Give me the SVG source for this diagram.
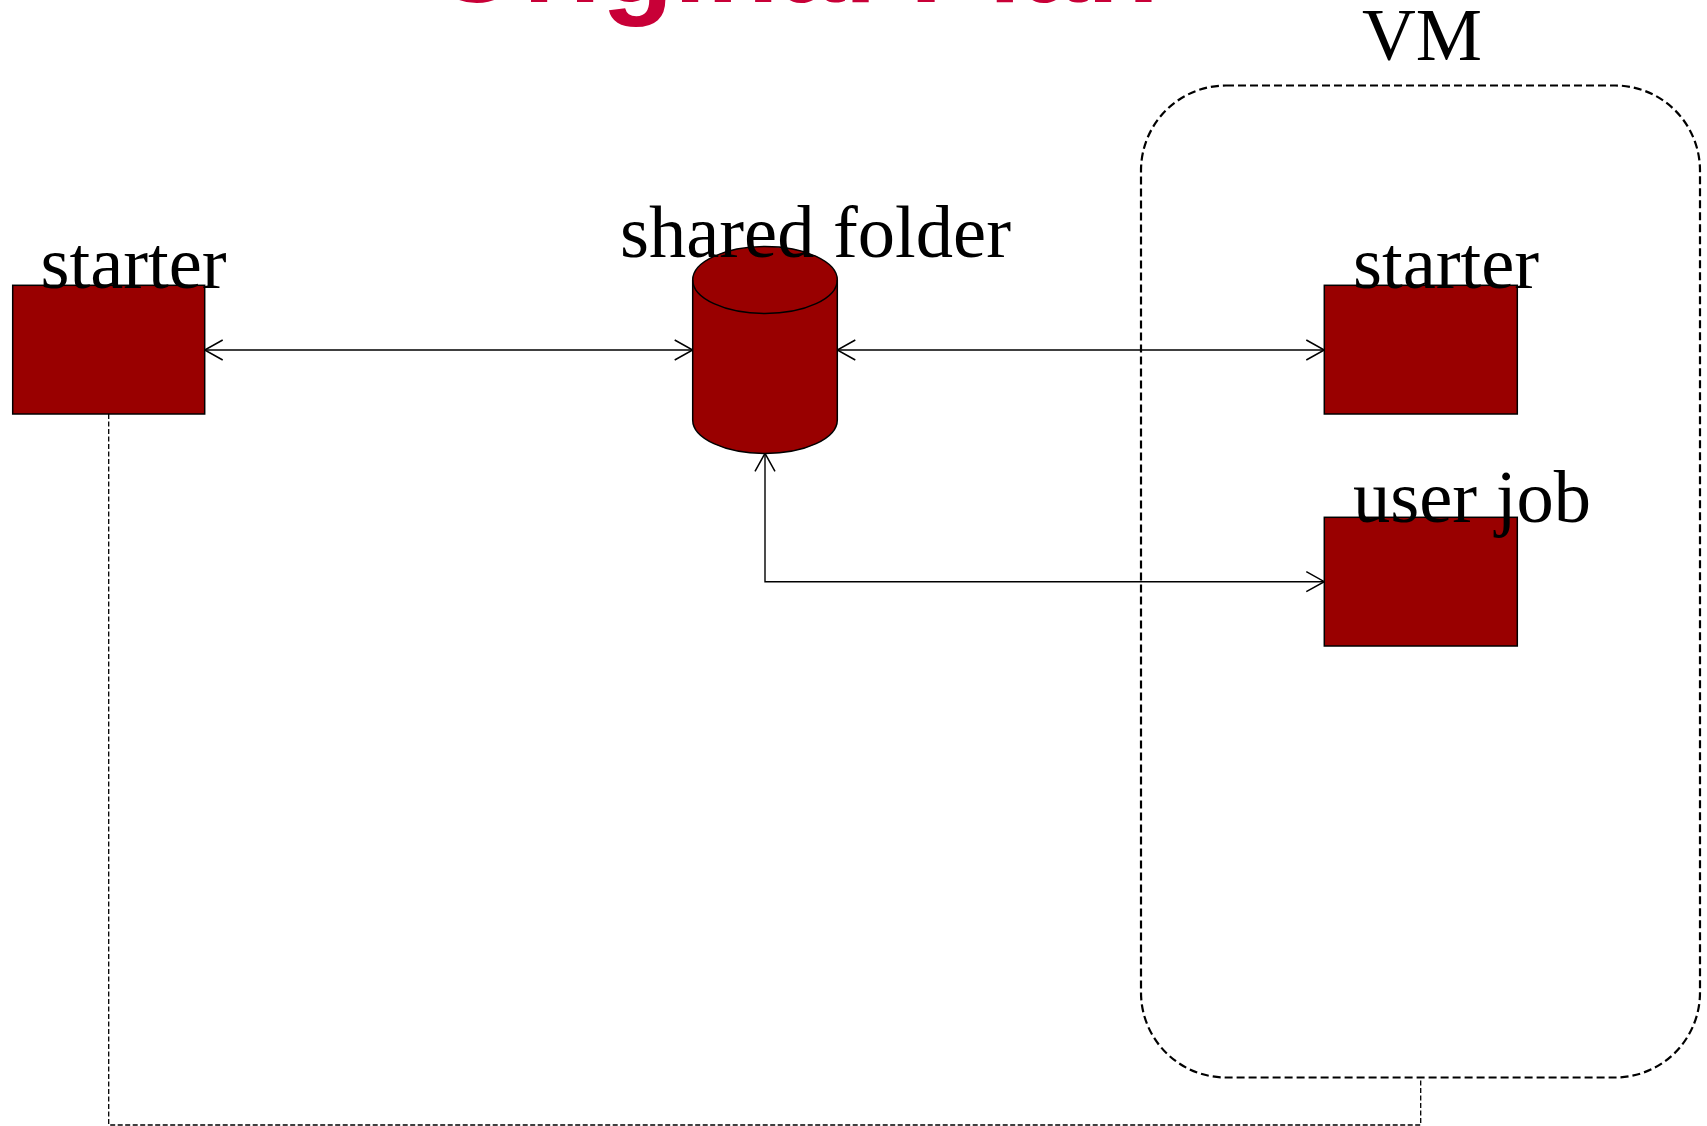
<svg xmlns="http://www.w3.org/2000/svg" width="1707" height="1126" viewBox="0 0 1707 1126">
<style>
.lbl{font-family:"Liberation Serif","Times New Roman",serif;font-size:74.5px;fill:#000}
.box{fill:#990000;stroke:#000;stroke-width:1.5}
.conn{fill:none;stroke:#000;stroke-width:1.4}
.dash{fill:none;stroke:#000;stroke-width:1.3;stroke-dasharray:5 2.5}
.title{font-family:"Liberation Sans",Arial,sans-serif;font-weight:bold;font-size:118px;fill:#C80037}
</style>
<defs>
<marker id="arr" markerUnits="userSpaceOnUse" markerWidth="22" markerHeight="24" refX="19" refY="11" orient="auto-start-reverse">
<path d="M1,1 L19,11 L1,21" fill="none" stroke="#000" stroke-width="1.5"/>
</marker>
</defs>
<rect width="1707" height="1126" fill="#fff"/>
<text class="title" x="795" y="2" text-anchor="middle">Original Plan</text>
<g id="vm">
<rect x="1141" y="85.5" width="559" height="992" rx="85" ry="85" fill="none" stroke="#000" stroke-width="2.2" stroke-dasharray="8 4"/>
<text class="lbl" x="1362" y="60">VM</text>
</g>
<g id="connectors">
<path class="conn" d="M204.7,350 H692.7" marker-start="url(#arr)" marker-end="url(#arr)"/>
<path class="conn" d="M837.3,350 H1324.3" marker-start="url(#arr)" marker-end="url(#arr)"/>
<path class="conn" d="M765,453.3 V581.7 H1324.3" marker-start="url(#arr)" marker-end="url(#arr)"/>
<path class="dash" d="M108.7,414 V1125 H1420.7 V1077.7"/>
</g>
<g id="starter-host">
<rect class="box" x="12.7" y="285.3" width="192" height="128.7"/>
<text class="lbl" x="40.5" y="288.3">starter</text>
</g>
<g id="shared-folder">
<path class="box" d="M692.7,280 V420 A72.3,33.5 0 0 0 837.3,420 V280 A72.3,33.5 0 0 0 692.7,280 Z"/>
<path d="M692.7,280 A72.3,33.5 0 0 0 837.3,280" fill="none" stroke="#000" stroke-width="1.5"/>
<text class="lbl" x="620" y="256.7">shared folder</text>
</g>
<g id="starter-vm">
<rect class="box" x="1324.3" y="285.3" width="193" height="128.7"/>
<text class="lbl" x="1353" y="288.3">starter</text>
</g>
<g id="user-job">
<rect class="box" x="1324.3" y="517.3" width="193" height="128.7"/>
<text class="lbl" x="1353" y="521.7">user job</text>
</g>
</svg>
